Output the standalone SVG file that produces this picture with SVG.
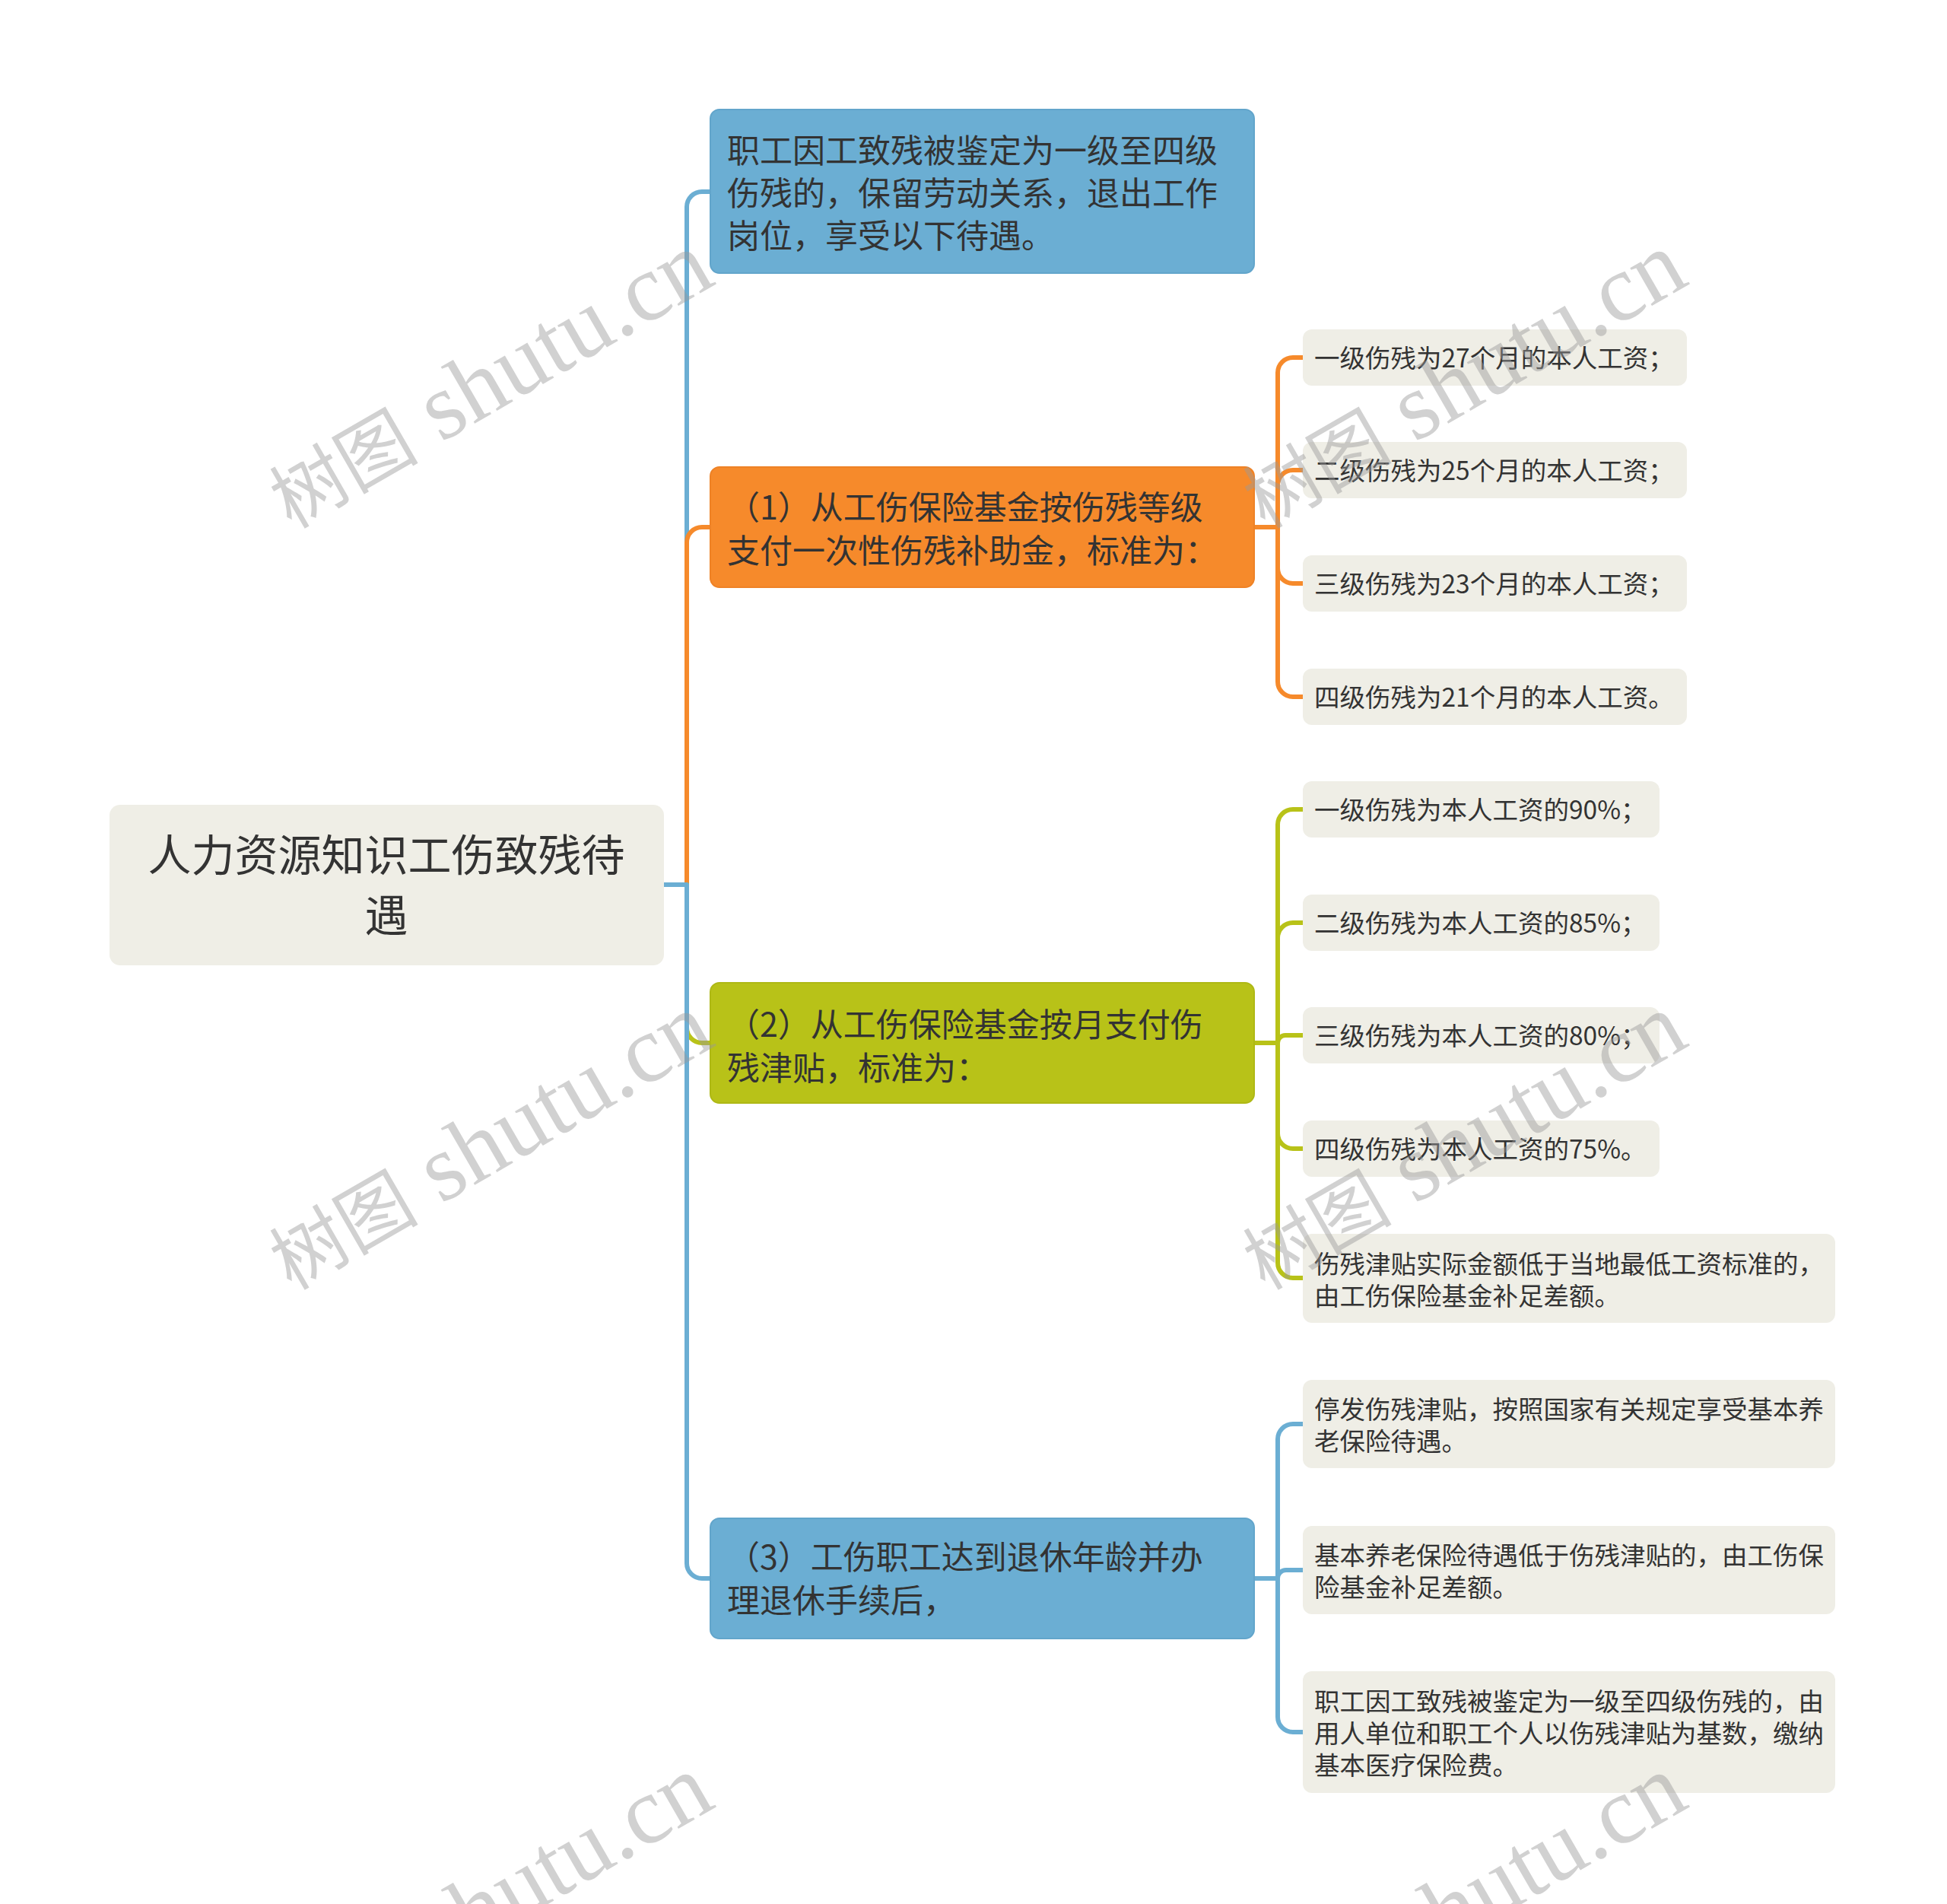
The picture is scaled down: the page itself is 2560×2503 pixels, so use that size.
<svg xmlns="http://www.w3.org/2000/svg" width="2560" height="2503" viewBox="0 0 2560 2503">
<style>
.t{font-family:"Noto Sans CJK SC","Noto Sans",sans-serif;fill:#333333}
.main{font-size:43px}
.root{font-size:57px}
.leaf{font-size:33.5px}
.lf{fill:#EFEEE6}
.blue{fill:#6BAED3;stroke:#62A5CB;stroke-width:2}
.orange{fill:#F68A2B;stroke:#EE8226;stroke-width:2}
.green{fill:#B8C218;stroke:#AEB815;stroke-width:2}
.c{fill:none;stroke-width:6;stroke-linejoin:round}
.cb{stroke:#6BAED3}
.co{stroke:#F68A2B}
.cg{stroke:#B8C218}
.wm{font-family:"Liberation Serif","Noto Sans CJK SC",serif;font-size:125px;fill:#9a9a9a;opacity:0.45}
.wc{font-family:"Noto Sans CJK SC",serif;font-size:98px}
</style>
<rect width="2560" height="2503" fill="#FFFFFF"/>
<g id="connectors">
<path class="c cb" d="M873 1163 H903 V272 A20 20 0 0 1 923 252 H934"/>
<path class="c co" d="M873 1163 H903 V713 A20 20 0 0 1 923 693 H934"/>
<path class="c cg" d="M873 1163 H903 V1351 A20 20 0 0 0 923 1371 H934"/>
<path class="c cb" d="M873 1163 H903 V2055 A20 20 0 0 0 923 2075 H934"/>
<path class="c co" d="M1649 693 H1680 V490 A20 20 0 0 1 1700 470 H1713"/>
<path class="c co" d="M1649 693 H1680 V638 A20 20 0 0 1 1700 618 H1713"/>
<path class="c co" d="M1649 693 H1680 V747 A20 20 0 0 0 1700 767 H1713"/>
<path class="c co" d="M1649 693 H1680 V896 A20 20 0 0 0 1700 916 H1713"/>
<path class="c cg" d="M1649 1371 H1680 V1084 A20 20 0 0 1 1700 1064 H1713"/>
<path class="c cg" d="M1649 1371 H1680 V1233 A20 20 0 0 1 1700 1213 H1713"/>
<path class="c cg" d="M1649 1371 H1680 A10 10 0 0 1 1690 1361 H1713"/>
<path class="c cg" d="M1649 1371 H1680 V1490 A20 20 0 0 0 1700 1510 H1713"/>
<path class="c cg" d="M1649 1371 H1680 V1660 A20 20 0 0 0 1700 1680 H1713"/>
<path class="c cb" d="M1649 2075 H1680 V1892 A20 20 0 0 1 1700 1872 H1713"/>
<path class="c cb" d="M1649 2075 H1680 A11 11 0 0 1 1691 2064 H1713"/>
<path class="c cb" d="M1649 2075 H1680 V2257 A20 20 0 0 0 1700 2277 H1713"/>
</g>
<g id="root">
<rect class="lf" x="144" y="1058" width="729" height="211" rx="14"/>
<text class="t root" x="508" y="1145" text-anchor="middle">人力资源知识工伤致残待</text>
<text class="t root" x="508" y="1224" text-anchor="middle">遇</text>
</g>
<g id="nodeA">
<rect class="blue" x="934" y="144" width="715" height="215" rx="12"/>
<text class="t main" x="956" y="214">职工因工致残被鉴定为一级至四级</text>
<text class="t main" x="956" y="270">伤残的，保留劳动关系，退出工作</text>
<text class="t main" x="956" y="326">岗位，享受以下待遇。</text>
</g>
<g id="nodeB">
<rect class="orange" x="934" y="614" width="715" height="158" rx="12"/>
<text class="t main" x="956" y="683">（1）从工伤保险基金按伤残等级</text>
<text class="t main" x="956" y="740">支付一次性伤残补助金，标准为：</text>
</g>
<g id="nodeC">
<rect class="green" x="934" y="1292" width="715" height="158" rx="12"/>
<text class="t main" x="956" y="1363">（2）从工伤保险基金按月支付伤</text>
<text class="t main" x="956" y="1420">残津贴，标准为：</text>
</g>
<g id="nodeD">
<rect class="blue" x="934" y="1996" width="715" height="158" rx="12"/>
<text class="t main" x="956" y="2063">（3）工伤职工达到退休年龄并办</text>
<text class="t main" x="956" y="2120">理退休手续后，</text>
</g>
<g id="leafB1"><rect class="lf" x="1713" y="433" width="505" height="74" rx="12"/><text class="t leaf" x="1728" y="483">一级伤残为27个月的本人工资；</text></g>
<g id="leafB2"><rect class="lf" x="1713" y="581" width="505" height="74" rx="12"/><text class="t leaf" x="1728" y="631">二级伤残为25个月的本人工资；</text></g>
<g id="leafB3"><rect class="lf" x="1713" y="730" width="505" height="74" rx="12"/><text class="t leaf" x="1728" y="780">三级伤残为23个月的本人工资；</text></g>
<g id="leafB4"><rect class="lf" x="1713" y="879" width="505" height="74" rx="12"/><text class="t leaf" x="1728" y="929">四级伤残为21个月的本人工资。</text></g>
<g id="leafC1"><rect class="lf" x="1713" y="1027" width="469" height="74" rx="12"/><text class="t leaf" x="1728" y="1077">一级伤残为本人工资的90%；</text></g>
<g id="leafC2"><rect class="lf" x="1713" y="1176" width="469" height="74" rx="12"/><text class="t leaf" x="1728" y="1226">二级伤残为本人工资的85%；</text></g>
<g id="leafC3"><rect class="lf" x="1713" y="1324" width="469" height="74" rx="12"/><text class="t leaf" x="1728" y="1374">三级伤残为本人工资的80%；</text></g>
<g id="leafC4"><rect class="lf" x="1713" y="1473" width="469" height="74" rx="12"/><text class="t leaf" x="1728" y="1523">四级伤残为本人工资的75%。</text></g>
<g id="leafC5"><rect class="lf" x="1713" y="1622" width="700" height="117" rx="12"/>
<text class="t leaf" x="1728" y="1674">伤残津贴实际金额低于当地最低工资标准的，</text>
<text class="t leaf" x="1728" y="1716">由工伤保险基金补足差额。</text></g>
<g id="leafD1"><rect class="lf" x="1713" y="1814" width="700" height="116" rx="12"/>
<text class="t leaf" x="1728" y="1865">停发伤残津贴，按照国家有关规定享受基本养</text>
<text class="t leaf" x="1728" y="1907">老保险待遇。</text></g>
<g id="leafD2"><rect class="lf" x="1713" y="2006" width="700" height="116" rx="12"/>
<text class="t leaf" x="1728" y="2057">基本养老保险待遇低于伤残津贴的，由工伤保</text>
<text class="t leaf" x="1728" y="2099">险基金补足差额。</text></g>
<g id="leafD3"><rect class="lf" x="1713" y="2197" width="700" height="160" rx="12"/>
<text class="t leaf" x="1728" y="2249">职工因工致残被鉴定为一级至四级伤残的，由</text>
<text class="t leaf" x="1728" y="2291">用人单位和职工个人以伤残津贴为基数，缴纳</text>
<text class="t leaf" x="1728" y="2333">基本医疗保险费。</text></g>
<g id="watermarks">
<text class="wm" transform="translate(383 696) rotate(-30)"><tspan class="wc">树图</tspan> shutu.cn</text>
<text class="wm" transform="translate(383 1697) rotate(-30)"><tspan class="wc">树图</tspan> shutu.cn</text>
<text class="wm" transform="translate(383 2698) rotate(-30)"><tspan class="wc">树图</tspan> shutu.cn</text>
<text class="wm" transform="translate(1663 696) rotate(-30)"><tspan class="wc">树图</tspan> shutu.cn</text>
<text class="wm" transform="translate(1663 1697) rotate(-30)"><tspan class="wc">树图</tspan> shutu.cn</text>
<text class="wm" transform="translate(1663 2698) rotate(-30)"><tspan class="wc">树图</tspan> shutu.cn</text>
</g>
</svg>
